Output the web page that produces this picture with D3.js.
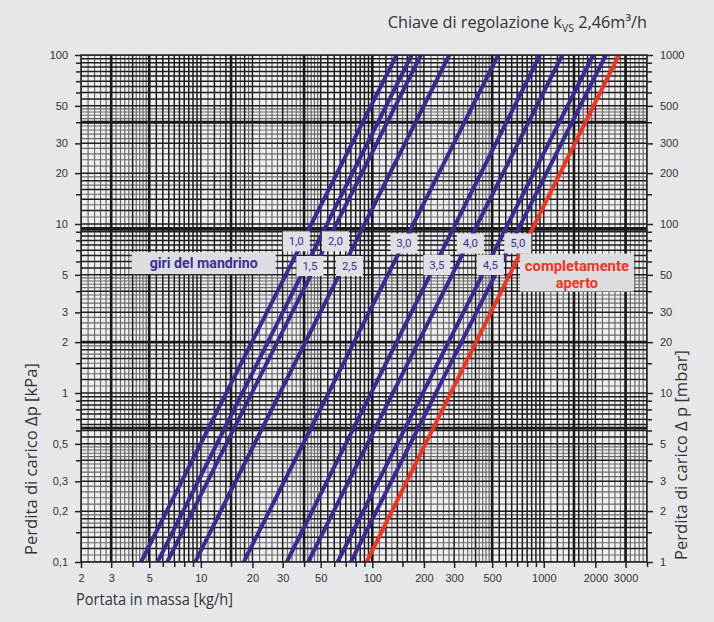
<!DOCTYPE html>
<html><head><meta charset="utf-8">
<script src="https://cdn.jsdelivr.net/npm/d3@7/dist/d3.min.js"></script>
<style>body{margin:0;background:#e6e7e9;} svg{display:block}</style>
</head><body><svg id="c" width="714" height="622"></svg>
<script>
// ---- data ----
const turns = ["1,0","1,5","2,0","2,5","3,0","3,5","4,0","4,5","5,0"];
const flowAtDpMin = [4.48, 5.60, 6.37, 9.28, 17.8, 31.7, 42.3, 62.8, 75.0];   // kg/h at 0.1 kPa
const flowAtDpMax = [138.6, 169.6, 192, 281, 542, 950, 1281, 1942, 2302];     // kg/h at 100 kPa
const openFlow = [92.7, 2742];            // completamente aperto
const dpEnds = [0.1, 100];                // kPa
const labelFlow = [36, 43.3, 61, 73.6, 153, 238, 373, 488, 706];
const labelDp   = [7.9, 5.64, 7.9, 5.64, 7.67, 5.72, 7.67, 5.72, 7.67];
const xTickLabels = [2,3,5,10,20,30,50,100,200,300,500,1000,2000,3000];
const xMinor = [4,6,7,8,9,15,40,60,70,80,90,150,400,600,700,800,900,1500,4000];
const yTickLabels = [0.1,0.2,0.3,0.5,1,2,3,5,10,20,30,50,100];
const yMinor = [0.15,0.4,0.6,0.7,0.8,0.9,1.5,4,6,7,8,9,15,40,60,70,80,90];
const yRightLabels = [1,2,3,5,10,20,30,50,100,200,300,500,1000];

const W=714,H=622;
const svg=d3.select("#c");
const x=d3.scaleLog().domain([2,4000]).range([81,647]);
const y=d3.scaleLog().domain([0.1,100]).range([562,55]);
const yR=d3.scaleLog().domain([1,1000]).range([562,55]);
const [x0,x1]=x.range(), [y0,y1]=y.range();

svg.append("rect").attr("width",W).attr("height",H).attr("fill","#e6e7e9");
svg.append("defs").append("clipPath").attr("id","clip").append("rect")
  .attr("x",x0).attr("y",y1).attr("width",x1-x0).attr("height",y0-y1);

const plot=svg.append("g").attr("clip-path","url(#clip)");
plot.append("rect").attr("x",x0).attr("y",y1).attr("width",x1-x0).attr("height",y0-y1).attr("fill","#efeff0");

// grid generation (log paper)
function gridVals(lo,hi){
  const fine=[],dark=[];
  for(let d=Math.pow(10,Math.floor(Math.log10(lo)));d<=hi;d*=10){
    for(let k=10;k<100;k+=(k<20?1:(k<50?2:5))){
      const v=d*k/10; if(v<lo*0.999||v>hi*1.001) continue;
      const isDark = (k%10===0)||(k<20&&k%2===0)||(k>=20&&k<50&&k%5===0)||(k>=50);
      (isDark?dark:fine).push(v);
    }
  }
  return {fine,dark};
}
const gx=gridVals(2,4000), gy=gridVals(0.1,100);
function vlines(vals,col,w){plot.append("g").selectAll("line").data(vals).join("line")
  .attr("x1",d=>x(d)).attr("x2",d=>x(d)).attr("y1",y1).attr("y2",y0).attr("stroke",col).attr("stroke-width",w);}
function hlines(vals,col,w){plot.append("g").selectAll("line").data(vals).join("line")
  .attr("y1",d=>y(d)).attr("y2",d=>y(d)).attr("x1",x0).attr("x2",x1).attr("stroke",col).attr("stroke-width",w);}
vlines(gx.fine,"#6a6a6a",1.2); hlines(gy.fine,"#6a6a6a",1.2);
vlines(gx.dark,"#1e1e1e",1.5); hlines(gy.dark,"#1e1e1e",1.5);
vlines([3,5,15,40,100,500,1500,3000],"#1a1a1a",2.6);
hlines([40,9.3,2,0.62],"#1a1a1a",2.8);

// curves
const line=d3.line().x(d=>x(d[0])).y(d=>y(d[1]));
plot.append("g").selectAll("path").data(turns.map((t,i)=>[[flowAtDpMin[i],dpEnds[0]],[flowAtDpMax[i],dpEnds[1]]]))
  .join("path").attr("d",line).attr("fill","none").attr("stroke","#3a2a94").attr("stroke-width",4);
plot.append("path").attr("d",line([[openFlow[0],dpEnds[0]],[openFlow[1],dpEnds[1]]]))
  .attr("fill","none").attr("stroke","#ee3524").attr("stroke-width",4);

// frame
svg.append("rect").attr("x",x0).attr("y",y1).attr("width",x1-x0).attr("height",y0-y1)
  .attr("fill","none").attr("stroke","#222").attr("stroke-width",1.5);

// labels
const lab=svg.append("g");
turns.forEach((t,i)=>{
  const cx=x(labelFlow[i]), cy=y(labelDp[i]);
  lab.append("rect").attr("x",cx-13.5).attr("y",cy-10).attr("width",27).attr("height",20).attr("fill","#dfe0e3");
  lab.append("text").attr("x",cx).attr("y",cy+4).attr("text-anchor","middle")
    .attr("font-family","Roboto, 'Noto Sans', sans-serif").attr("font-size",11.5).attr("fill","#3d3095").text(t);
});
{
  const cx=x(10.4), cy=y(5.87);
  lab.append("rect").attr("x",cx-72).attr("y",cy-11).attr("width",144).attr("height",22).attr("fill","#dcdde0");
  lab.append("text").attr("x",cx).attr("y",cy+5).attr("text-anchor","middle").attr("font-weight","bold")
    .attr("font-family","Roboto, 'Noto Sans', sans-serif").attr("font-size",14.5).attr("fill","#3d3095")
    .attr("textLength",108).attr("lengthAdjust","spacingAndGlyphs").text("giri del mandrino");
}
{
  const cx=x(1560), cy=y(5.16);
  lab.append("rect").attr("x",cx-57).attr("y",cy-19).attr("width",114).attr("height",38).attr("fill","#dcdde0");
  const tt=lab.append("text").attr("text-anchor","middle").attr("font-weight","bold")
    .attr("font-family","Roboto, 'Noto Sans', sans-serif").attr("font-size",14.5).attr("fill","#ee3524");
  tt.append("tspan").attr("x",cx).attr("y",cy-2).attr("textLength",104).attr("lengthAdjust","spacingAndGlyphs").text("completamente");
  tt.append("tspan").attr("x",cx).attr("y",cy+15).text("aperto");
}

// axes
const fmt=d=>String(d).replace(".",",");
const tf="'Liberation Sans', Arial, sans-serif";
function styleAxis(g){g.select(".domain").remove();g.selectAll("line").attr("stroke","#222").attr("stroke-width",1.5);
  g.selectAll("text").attr("font-family",tf).attr("font-size",11).attr("fill","#333");}
svg.append("g").attr("transform",`translate(0,${y0})`).call(d3.axisBottom(x).tickValues(xTickLabels).tickFormat(fmt).tickSize(6).tickPadding(6)).call(styleAxis);
svg.append("g").attr("transform",`translate(0,${y0})`).call(d3.axisBottom(x).tickValues(xMinor).tickFormat("").tickSize(5)).call(styleAxis);
svg.append("g").attr("transform",`translate(${x0},0)`).call(d3.axisLeft(y).tickValues(yTickLabels).tickFormat(fmt).tickSize(6).tickPadding(7)).call(styleAxis);
svg.append("g").attr("transform",`translate(${x0},0)`).call(d3.axisLeft(y).tickValues(yMinor).tickFormat("").tickSize(5)).call(styleAxis);
svg.append("g").attr("transform",`translate(${x1},0)`).call(d3.axisRight(yR).tickValues(yRightLabels).tickFormat(fmt).tickSize(6).tickPadding(7)).call(styleAxis);
svg.append("g").attr("transform",`translate(${x1},0)`).call(d3.axisRight(yR).tickValues(yMinor.map(v=>v*10)).tickFormat("").tickSize(5)).call(styleAxis);

// titles
const ff="'Open Sans', 'Noto Sans', sans-serif";
function fit(t,len){const l=t.node().getComputedTextLength();const fs=+t.attr("font-size");t.attr("font-size",fs*len/l);}
svg.append("text").attr("x",76).attr("y",605).attr("font-family",ff).attr("font-size",16).attr("fill","#333")
  .attr("textLength",157).attr("lengthAdjust","spacingAndGlyphs").text("Portata in massa [kg/h]");
const lt=svg.append("text").attr("transform","translate(37,555) rotate(-90)").attr("font-family",ff).attr("font-size",15).attr("fill","#333").text("Perdita di carico Δp [kPa]");
fit(lt,192);
svg.append("text").attr("transform","translate(687,560) rotate(-90)").attr("font-family",ff).attr("font-size",lt.attr("font-size")).attr("fill","#333").text("Perdita di carico Δ p [mbar]");
const tt=svg.append("text").attr("x",647).attr("y",28).attr("text-anchor","end").attr("font-family",ff).attr("font-size",16.3).attr("fill","#333");
tt.append("tspan").text("Chiave di regolazione k");
tt.append("tspan").attr("font-size",10.5).attr("dy",4).text("VS");
tt.append("tspan").attr("dy",-4).text(" 2,46m³/h");
</script></body></html>
